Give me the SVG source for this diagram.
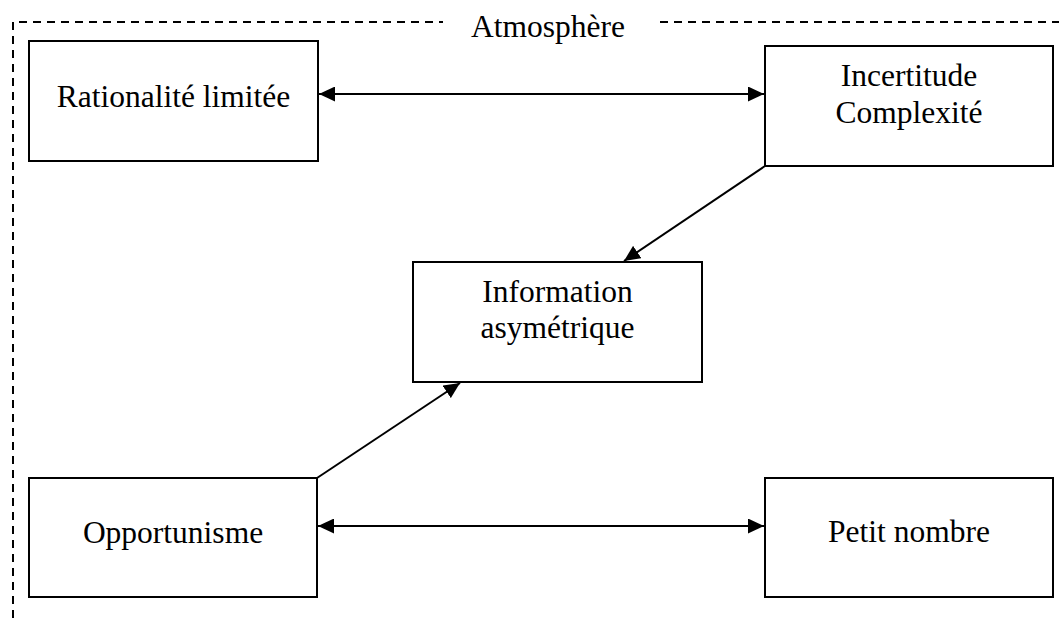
<svg xmlns="http://www.w3.org/2000/svg" width="1059" height="618" viewBox="0 0 1059 618">
<style>
.box{fill:#fff;stroke:#000;stroke-width:2}
.lbl{font-family:"Liberation Serif","Times New Roman",serif;font-size:31.5px;fill:#000;text-anchor:middle}
.con{stroke:#000;stroke-width:2;fill:none}
.dash{stroke:#000;stroke-width:2;fill:none;stroke-dasharray:8 6}
</style>
<defs>
<marker id="ah" markerUnits="userSpaceOnUse" markerWidth="17" markerHeight="15" refX="16" refY="7.5" orient="auto-start-reverse">
<path d="M0,0 L16,7.5 L0,15 z" fill="#000"/>
</marker>
</defs>
<g id="atmosphere">
<path class="dash" d="M13,618 L13,22 L443,22"/>
<path class="dash" d="M660,22 L1059,22"/>
<text class="lbl" x="548" y="37">Atmosphère</text>
</g>
<g id="connectors">
<line class="con" x1="319" y1="94" x2="764" y2="94" marker-start="url(#ah)" marker-end="url(#ah)"/>
<line class="con" x1="318" y1="526" x2="764" y2="526" marker-start="url(#ah)" marker-end="url(#ah)"/>
<line class="con" x1="765" y1="166" x2="624" y2="261" marker-end="url(#ah)"/>
<line class="con" x1="317" y1="478" x2="460" y2="383" marker-end="url(#ah)"/>
</g>
<g id="rationalite">
<rect class="box" x="29" y="41" width="289" height="120"/>
<text class="lbl" x="173.5" y="107">Rationalité limitée</text>
</g>
<g id="incertitude">
<rect class="box" x="765" y="46" width="288" height="120"/>
<text class="lbl" x="909" y="86">Incertitude</text>
<text class="lbl" x="909" y="123">Complexité</text>
</g>
<g id="information">
<rect class="box" x="413" y="262" width="289" height="120"/>
<text class="lbl" x="557.5" y="302">Information</text>
<text class="lbl" x="557.5" y="338">asymétrique</text>
</g>
<g id="opportunisme">
<rect class="box" x="29" y="478" width="288" height="119"/>
<text class="lbl" x="173" y="543">Opportunisme</text>
</g>
<g id="petit-nombre">
<rect class="box" x="765" y="478" width="288" height="119"/>
<text class="lbl" x="909" y="542">Petit nombre</text>
</g>
</svg>
